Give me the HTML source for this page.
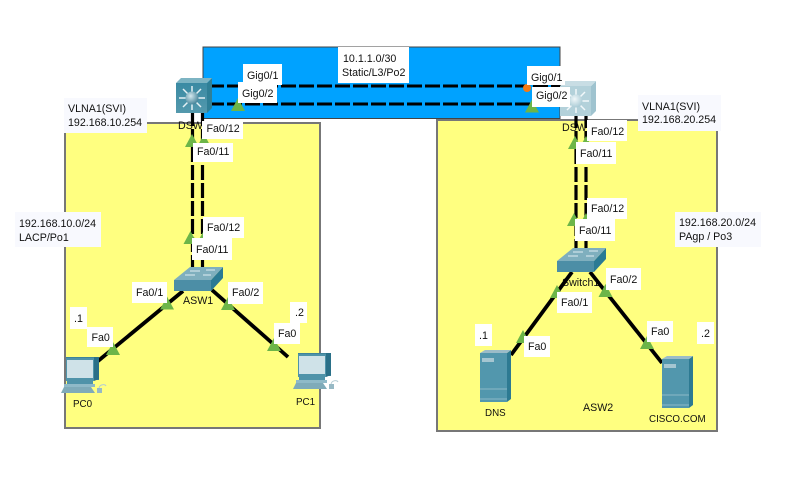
<!DOCTYPE html>
<html><head><meta charset="utf-8"><style>
html,body{margin:0;padding:0;background:#fff;width:794px;height:500px;overflow:hidden}
svg{display:block}
text{font-family:"Liberation Sans",Arial,sans-serif;font-size:10.67px;fill:#111}
text.d{font-size:9.8px}
</style></head><body>
<svg width="794" height="500" viewBox="0 0 794 500" xmlns="http://www.w3.org/2000/svg">
<defs>
<radialGradient id="ball" cx=".4" cy=".35" r=".7"><stop offset="0" stop-color="#d5e9ef"/><stop offset="1" stop-color="#3f7f95"/></radialGradient>
<radialGradient id="ball2" cx=".4" cy=".35" r=".7"><stop offset="0" stop-color="#f0f7f9"/><stop offset="1" stop-color="#a5c8d3"/></radialGradient>
<linearGradient id="mg" x1="0" y1="0" x2="0" y2="1"><stop offset="0" stop-color="#3a8aa3"/><stop offset="1" stop-color="#5499ad"/></linearGradient>
<g id="tri"><polygon points="-7,0 0,-13 7,0" fill="#6cb548"/></g>
<g id="sw">
<polygon points="37,13 49,0 49,11 37,24" fill="#2a7a94"/>
<polygon points="0,13 16,0 49,0 37,13" fill="#7fafbe"/>
<rect x="0" y="13" width="37" height="11" fill="#4c8ea6"/>
<g stroke="#dfeef2" stroke-width="1"><path d="M16 4h10M32 3h9M11 8h10M29 8h8"/></g>
</g>
<g id="pc">
<rect x="5" y="0" width="33" height="23" fill="#3e8399"/>
<polygon points="33,0 38,0 38,22 33,24" fill="#2a7088"/>
<rect x="5" y="1" width="28" height="23" fill="#4f93a9"/>
<rect x="6" y="3" width="26" height="18" fill="#cfe2e8"/>
<rect x="6" y="24" width="26" height="3" fill="#4f93a9"/>
<rect x="3" y="27" width="31" height="3" fill="#8fbac8"/>
<polygon points="3,30 30,30 34,36 0,36" fill="#7fabb9"/>
<rect x="36" y="31" width="5" height="5" fill="#97b9c5"/>
<path d="M38 31c1-4 6-4 7-2" stroke="#b5ccd4" fill="none"/>
</g>
<g id="srv">
<polygon points="27,3 31,0 31,49 27,52" fill="#2d7a92"/>
<polygon points="0,3 5,0 31,0 27,3" fill="#9bbcc8"/>
<rect x="0" y="3" width="27" height="49" fill="#5297ad"/>
<rect x="2" y="8" width="12" height="4" fill="#a5c6d1"/>
<path d="M0 39h27M0 49h27" stroke="#8cb8c6" stroke-width="1"/>
</g>
</defs>

<rect x="203" y="47" width="357" height="71.500" fill="#00a2ff" stroke="#444" stroke-width="1"/>
<rect x="65" y="123" width="255" height="305" fill="#ffff80" stroke="#777" stroke-width="2"/>
<rect x="437" y="120" width="280" height="311" fill="#ffff80" stroke="#777" stroke-width="2"/>

<text x="178" y="129">DSW1</text>
<text x="562" y="131">DSW1</text>
<text x="562" y="286">Switch1</text>

<!-- WAN links -->
<g stroke="#000" stroke-width="3" fill="none" stroke-dasharray="15,3">
<path d="M209 86H570"/>
<path d="M209 104H570"/>
</g>
<!-- trunks -->
<g stroke="#000" stroke-width="3.200" fill="none" stroke-dasharray="15,3">
<path d="M192.500 111V268"/>
<path d="M202.500 111V268"/>
<path d="M576 113V250"/>
<path d="M586 113V250"/>
</g>
<!-- access links -->
<g stroke="#000" stroke-width="3.800" fill="none">
<path d="M183 291L98 361"/>
<path d="M212 290L288 357"/>
<path d="M572 272L511 355"/>
<path d="M590 272L662 363"/>
</g>

<!-- icons -->
<g transform="translate(176,78)">
<polygon points="31,5 36,0 36,30 31,35" fill="#2f7f96"/>
<polygon points="0,5 5,0 36,0 31,5" fill="#7db4c3"/>
<rect x="0" y="5" width="31" height="30" fill="url(#mg)"/>
<g stroke="#e4f0f4" stroke-width="1.500"><path d="M16 20L16 8M16 20L16 32M16 20L3 20M16 20L29 20M16 20L7 11M16 20L25 11M16 20L7 29M16 20L25 29"/></g>
<circle cx="16" cy="20" r="6.500" fill="url(#ball)"/>
</g>
<g transform="translate(560,81)">
<polygon points="31,5 36,0 36,30 31,35" fill="#9fc3cf"/>
<polygon points="0,5 5,0 36,0 31,5" fill="#c8dde4"/>
<rect x="0" y="5" width="31" height="30" fill="#b3d1da"/>
<g stroke="#f2f8fa" stroke-width="1.500"><path d="M16 20L16 8M16 20L16 32M16 20L3 20M16 20L29 20M16 20L7 11M16 20L25 11M16 20L7 29M16 20L25 29"/></g>
<circle cx="16" cy="20" r="6.500" fill="url(#ball2)"/>
</g>
<use href="#sw" x="174" y="267"/>
<use href="#sw" x="557" y="248"/>
<use href="#pc" x="61" y="357"/>
<use href="#pc" x="293" y="353"/>
<use href="#srv" x="480" y="350"/>
<use href="#srv" x="662" y="356"/>

<!-- triangles -->
<use href="#tri" x="238" y="111"/>
<use href="#tri" x="532" y="112.500"/>
<circle cx="527" cy="88" r="4" fill="#f57a14"/>
<use href="#tri" x="192" y="147"/>
<use href="#tri" x="204" y="147"/>
<use href="#tri" x="190.500" y="244"/>
<use href="#tri" x="203" y="245"/>
<use href="#tri" x="575" y="149"/>
<use href="#tri" x="586" y="149"/>
<use href="#tri" x="574" y="226"/>
<use href="#tri" x="586" y="226"/>
<use href="#tri" x="167" y="309.500"/>
<use href="#tri" x="228" y="310"/>
<use href="#tri" x="113" y="355"/>
<use href="#tri" x="274" y="351"/>
<use href="#tri" x="557" y="298"/>
<use href="#tri" x="605.500" y="297"/>
<use href="#tri" x="523" y="343"/>
<use href="#tri" x="647" y="349"/>

<!-- white labels -->
<g fill="#fff">
<rect x="243" y="64" width="39" height="21"/>
<rect x="238" y="82" width="39" height="21"/>
<rect x="527" y="66" width="38" height="19"/>
<rect x="532" y="87" width="38" height="20"/>
<rect x="202" y="121" width="41" height="18"/>
<rect x="193" y="143" width="40" height="19"/>
<rect x="587" y="120" width="40" height="21"/>
<rect x="576" y="142" width="40" height="22"/>
<rect x="203" y="217" width="41" height="21"/>
<rect x="192" y="238" width="40" height="22"/>
<rect x="587" y="198" width="40" height="21"/>
<rect x="575" y="219" width="40" height="22"/>
<rect x="132" y="282" width="35" height="21"/>
<rect x="228" y="282" width="35" height="22"/>
<rect x="557" y="292" width="35" height="21"/>
<rect x="606" y="268" width="35" height="22"/>
<rect x="70" y="307" width="17" height="22"/>
<rect x="87" y="327" width="26" height="20"/>
<rect x="290" y="302" width="17" height="21"/>
<rect x="274" y="323" width="26" height="21"/>
<rect x="475" y="324" width="17" height="22"/>
<rect x="524" y="336" width="26" height="21"/>
<rect x="647" y="321" width="26" height="21"/>
<rect x="697" y="322" width="17" height="22"/>
<rect x="338" y="47" width="71" height="36"/>
</g>
<g fill="#f8f9fe">
<rect x="64" y="98" width="83" height="35"/>
<rect x="638" y="95" width="83" height="36"/>
<rect x="15" y="212" width="86" height="35"/>
<rect x="675" y="212" width="86" height="35"/>
</g>

<text x="343" y="62">10.1.1.0/30</text>
<text x="342" y="76">Static/L3/Po2</text>
<text x="247" y="79">Gig0/1</text>
<text x="242" y="97">Gig0/2</text>
<text x="531" y="81">Gig0/1</text>
<text x="536" y="99">Gig0/2</text>
<text x="206.500" y="132">Fa0/12</text>
<text x="197" y="155">Fa0/11</text>
<text x="591" y="135">Fa0/12</text>
<text x="580" y="157">Fa0/11</text>
<text x="207" y="231">Fa0/12</text>
<text x="196" y="253">Fa0/11</text>
<text x="591" y="212">Fa0/12</text>
<text x="579" y="234">Fa0/11</text>
<text x="68" y="112">VLNA1(SVI)</text>
<text x="68" y="126">192.168.10.254</text>
<text x="642" y="110">VLNA1(SVI)</text>
<text x="642" y="123">192.168.20.254</text>
<text x="19" y="227">192.168.10.0/24</text>
<text x="19" y="241">LACP/Po1</text>
<text x="679" y="226">192.168.20.0/24</text>
<text x="679" y="240">PAgp / Po3</text>
<text x="136" y="296">Fa0/1</text>
<text x="232" y="296">Fa0/2</text>
<text x="183" y="304">ASW1</text>
<text x="561" y="306">Fa0/1</text>
<text x="610" y="283">Fa0/2</text>
<text x="74" y="322">.1</text>
<text x="91.500" y="341">Fa0</text>
<text x="295" y="316">.2</text>
<text x="278" y="337">Fa0</text>
<text x="479" y="339">.1</text>
<text x="528" y="350">Fa0</text>
<text x="651" y="335">Fa0</text>
<text x="701" y="337">.2</text>
<text class="d" x="73" y="407">PC0</text>
<text class="d" x="296" y="405">PC1</text>
<text class="d" x="485" y="416">DNS</text>
<text x="583" y="411">ASW2</text>
<text class="d" x="649" y="422">CISCO.COM</text>
</svg>
</body></html>
